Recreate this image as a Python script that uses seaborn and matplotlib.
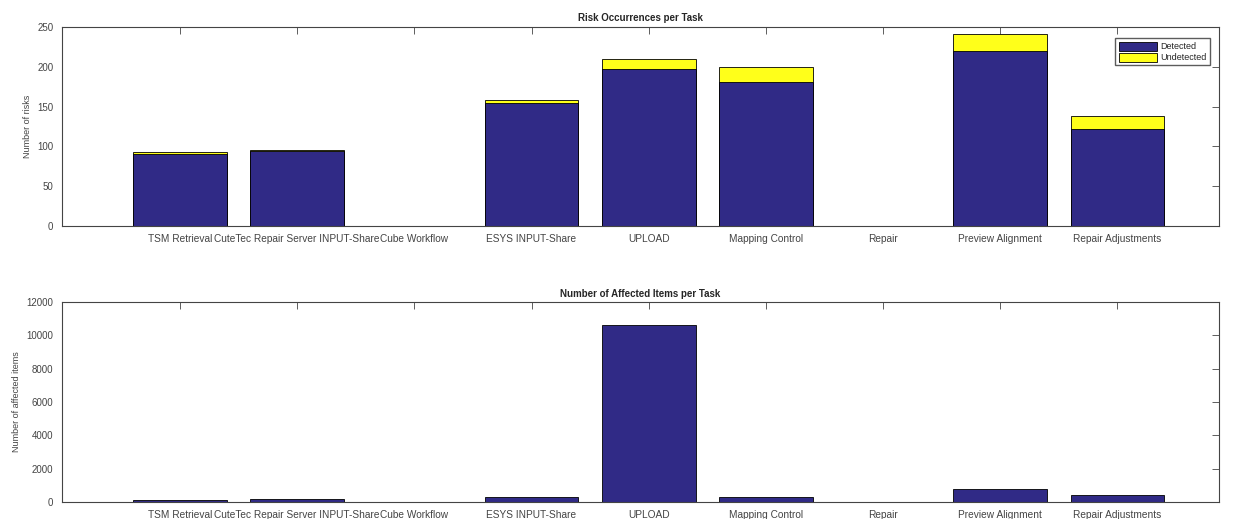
import numpy as np
import pandas as pd
import seaborn as sns
import matplotlib.pyplot as plt

tasks = ["TSM Retrieval", "CuteTec Repair Server INPUT-Share", "Cube Workflow",
         "ESYS INPUT-Share", "UPLOAD", "Mapping Control", "Repair",
         "Preview Alignment", "Repair Adjustments"]
detected = [90, 94, 0, 155, 197, 181, 0, 220, 122]
undetected = [3, 1, 0, 3, 13, 19, 0, 21, 16]
affected_items = [100, 150, 0, 300, 10600, 300, 0, 750, 400]

blue = "#302a86"
yellow = "#ffff1a"

sns.set_theme(style="white")
plt.rcParams["font.family"] = ["Liberation Sans", "DejaVu Sans"]

df = pd.DataFrame({"task": tasks, "detected": detected, "undetected": undetected,
                   "items": affected_items})
df["total"] = df["detected"] + df["undetected"]

fig = plt.figure(figsize=(12.33, 5.19), dpi=100)
ax1 = fig.add_axes([0.050, 0.5645, 0.939, 0.3835])
ax2 = fig.add_axes([0.050, 0.0328, 0.939, 0.3852])

sns.barplot(data=df, x="task", y="total", color=yellow, saturation=1, width=0.8,
            edgecolor="black", linewidth=0.6, ax=ax1, label="Undetected")
sns.barplot(data=df, x="task", y="detected", color=blue, saturation=1, width=0.8,
            edgecolor="black", linewidth=0.6, ax=ax1, label="Detected")
sns.barplot(data=df, x="task", y="items", color=blue, saturation=1, width=0.8,
            edgecolor="black", linewidth=0.6, ax=ax2)

# empty bars should not leave an outline on the axis
for ax in (ax1, ax2):
    for p in ax.patches:
        if p.get_height() == 0:
            p.set_edgecolor("none")

def matlab_style(ax, ymax, step, title, ylabel):
    ax.set_xlim(-1.01, 8.87)
    ax.set_ylim(0, ymax)
    ax.set_yticks(np.arange(0, ymax + 1, step))
    ax.set_title(title, fontsize=7, fontweight="bold", pad=4)
    ax.set_ylabel(ylabel, fontsize=6.5, color="#444444", labelpad=4)
    ax.set_xlabel("")
    ax.tick_params(direction="in", length=5, width=0.6, labelsize=7.3,
                   colors="#444444", top=True, right=True, pad=6)
    ax.tick_params(axis="y", labelsize=7)
    for s in ax.spines.values():
        s.set_color("#444444")
        s.set_linewidth(0.8)

matlab_style(ax1, 250, 50, "Risk Occurrences per Task", "Number of risks")
matlab_style(ax2, 12000, 2000, "Number of Affected Items per Task", "Number of affected items")

handles, labels = ax1.get_legend_handles_labels()
ax1.legend(handles[::-1], labels[::-1], loc="upper right", bbox_to_anchor=(0.9955, 0.965),
           fontsize=6.5, frameon=True, edgecolor="#333333", fancybox=False,
           handlelength=4.2, handleheight=1.2, borderpad=0.35, labelspacing=0.15,
           handletextpad=0.4)

fig.savefig("out.png", dpi=100, facecolor="white")
